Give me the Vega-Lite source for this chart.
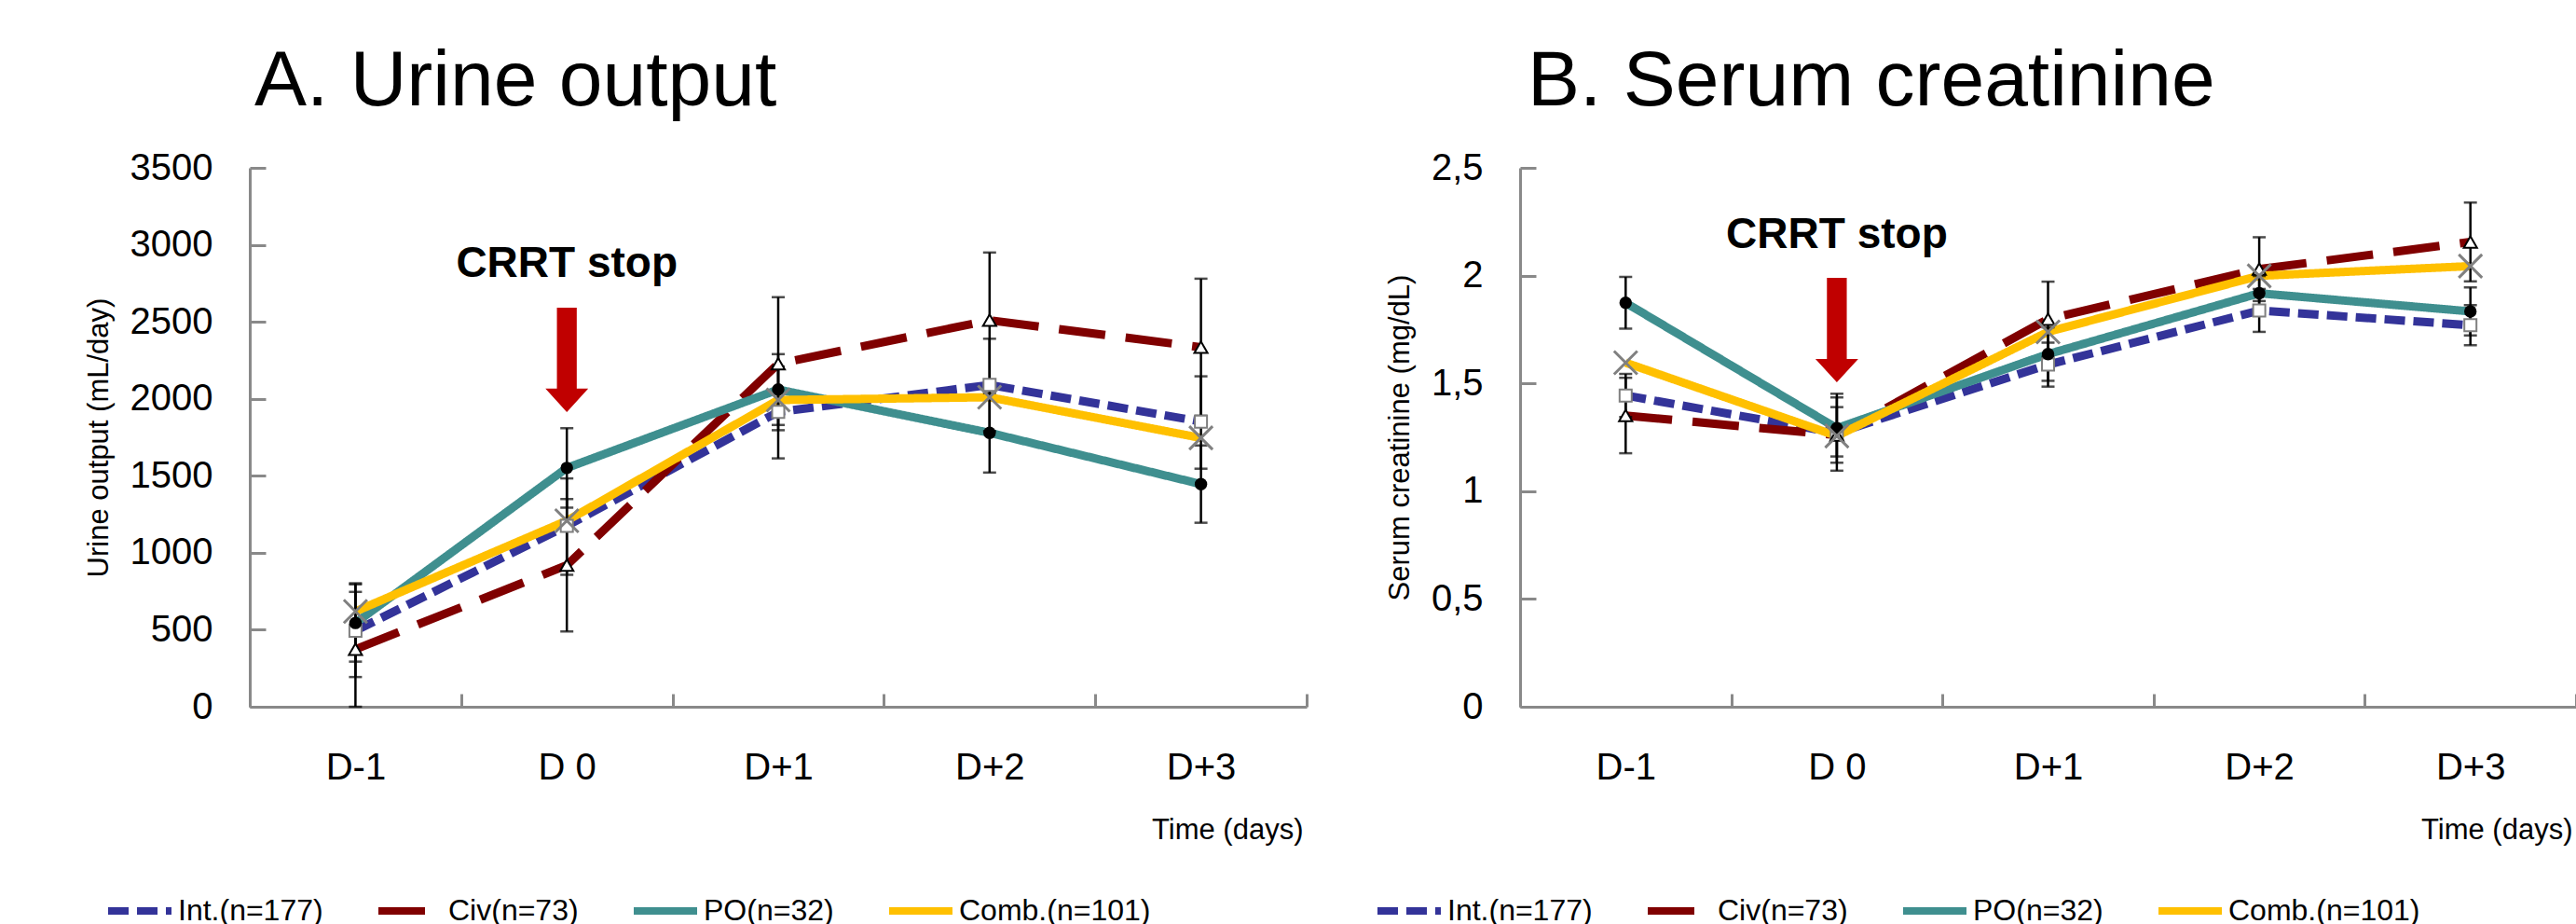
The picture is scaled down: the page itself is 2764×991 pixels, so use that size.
{
  "$schema": "https://vega.github.io/schema/vega-lite/v6.json",
  "background": "white",
  "padding": {"left": 90, "top": 46, "right": 0, "bottom": 0},
  "spacing": 229,
  "bounds": "flush",
  "config": {
    "font": "Liberation Sans",
    "view": {"stroke": null},
    "axis": {"domainColor": "#898989", "domainWidth": 3, "tickColor": "#898989", "tickWidth": 3, "grid": false, "labelFontSize": 40, "labelColor": "black", "titleFontSize": 31, "titleFontWeight": "normal", "titleColor": "black", "labelFont": "Liberation Sans", "titleFont": "Liberation Sans"},
    "axisY": {"tickSize": -17, "labelPadding": 57, "titlePadding": 17},
    "axisX": {"tickSize": -14, "labelPadding": 59, "labelAngle": 0}
  },
  "datasets": {
    "urine": [
      {"series": "Int.(n=177)", "day": "D-1", "mean": 494, "lo": 193, "hi": 795},
      {"series": "Int.(n=177)", "day": "D 0", "mean": 1175, "lo": 857, "hi": 1483},
      {"series": "Int.(n=177)", "day": "D+1", "mean": 1915, "lo": 1613, "hi": 2210},
      {"series": "Int.(n=177)", "day": "D+2", "mean": 2090, "lo": 1790, "hi": 2390},
      {"series": "Int.(n=177)", "day": "D+3", "mean": 1852, "lo": 1546, "hi": 2146},
      {"series": "Civ(n=73)", "day": "D-1", "mean": 373, "lo": 0, "hi": 746},
      {"series": "Civ(n=73)", "day": "D 0", "mean": 919, "lo": 489, "hi": 1349},
      {"series": "Civ(n=73)", "day": "D+1", "mean": 2228, "lo": 1796, "hi": 2660},
      {"series": "Civ(n=73)", "day": "D+2", "mean": 2510, "lo": 2070, "hi": 2950},
      {"series": "Civ(n=73)", "day": "D+3", "mean": 2335, "lo": 1890, "hi": 2780},
      {"series": "PO(n=32)", "day": "D-1", "mean": 544, "lo": 293, "hi": 802},
      {"series": "PO(n=32)", "day": "D 0", "mean": 1551, "lo": 1293, "hi": 1809},
      {"series": "PO(n=32)", "day": "D+1", "mean": 2060, "lo": 1830, "hi": 2290},
      {"series": "PO(n=32)", "day": "D+2", "mean": 1779, "lo": 1521, "hi": 2037},
      {"series": "PO(n=32)", "day": "D+3", "mean": 1446, "lo": 1195, "hi": 1697},
      {"series": "Comb.(n=101)", "day": "D-1", "mean": 619, "lo": null, "hi": null},
      {"series": "Comb.(n=101)", "day": "D 0", "mean": 1208, "lo": null, "hi": null},
      {"series": "Comb.(n=101)", "day": "D+1", "mean": 1992, "lo": null, "hi": null},
      {"series": "Comb.(n=101)", "day": "D+2", "mean": 2010, "lo": null, "hi": null},
      {"series": "Comb.(n=101)", "day": "D+3", "mean": 1746, "lo": null, "hi": null}
    ],
    "creat": [
      {"series": "Int.(n=177)", "day": "D-1", "mean": 1.444, "lo": 1.344, "hi": 1.544},
      {"series": "Int.(n=177)", "day": "D 0", "mean": 1.27, "lo": 1.161, "hi": 1.39},
      {"series": "Int.(n=177)", "day": "D+1", "mean": 1.587, "lo": 1.485, "hi": 1.689},
      {"series": "Int.(n=177)", "day": "D+2", "mean": 1.838, "lo": 1.739, "hi": 1.938},
      {"series": "Int.(n=177)", "day": "D+3", "mean": 1.77, "lo": 1.677, "hi": 1.863},
      {"series": "Civ(n=73)", "day": "D-1", "mean": 1.351, "lo": 1.176, "hi": 1.526},
      {"series": "Civ(n=73)", "day": "D 0", "mean": 1.26, "lo": 1.095, "hi": 1.435},
      {"series": "Civ(n=73)", "day": "D+1", "mean": 1.798, "lo": 1.624, "hi": 1.972},
      {"series": "Civ(n=73)", "day": "D+2", "mean": 2.03, "lo": 1.882, "hi": 2.178},
      {"series": "Civ(n=73)", "day": "D+3", "mean": 2.156, "lo": 1.973, "hi": 2.339},
      {"series": "PO(n=32)", "day": "D-1", "mean": 1.874, "lo": 1.754, "hi": 1.994},
      {"series": "PO(n=32)", "day": "D 0", "mean": 1.292, "lo": 1.132, "hi": 1.452},
      {"series": "PO(n=32)", "day": "D+1", "mean": 1.636, "lo": 1.512, "hi": 1.76},
      {"series": "PO(n=32)", "day": "D+2", "mean": 1.918, "lo": 1.838, "hi": 1.998},
      {"series": "PO(n=32)", "day": "D+3", "mean": 1.834, "lo": 1.723, "hi": 1.945},
      {"series": "Comb.(n=101)", "day": "D-1", "mean": 1.596, "lo": null, "hi": null},
      {"series": "Comb.(n=101)", "day": "D 0", "mean": 1.256, "lo": null, "hi": null},
      {"series": "Comb.(n=101)", "day": "D+1", "mean": 1.739, "lo": null, "hi": null},
      {"series": "Comb.(n=101)", "day": "D+2", "mean": 1.999, "lo": null, "hi": null},
      {"series": "Comb.(n=101)", "day": "D+3", "mean": 2.044, "lo": null, "hi": null}
    ]
  },
  "resolve": {
    "scale": {"x": "independent", "y": "independent", "color": "independent", "strokeDash": "independent"},
    "legend": {"color": "independent", "strokeDash": "independent"}
  },
  "hconcat": [
    {
      "width": 1134,
      "height": 578,
      "title": {"text": "A. Urine output", "anchor": "start", "frame": "group", "dx": 5, "offset": -37, "baseline": "alphabetic", "fontSize": 84, "font": "Liberation Sans", "fontWeight": "normal", "color": "black"},
      "data": {"name": "urine"},
      "encoding": {
        "x": {"field": "day", "type": "ordinal", "sort": ["D-1", "D 0", "D+1", "D+2", "D+3"], "scale": {"type": "band", "paddingInner": 0, "paddingOuter": 0},
          "axis": {"title": "Time (days)", "titleX": 1130, "titleY": 141, "titleAlign": "right", "titleAnchor": "end", "titleBaseline": "alphabetic", "labelAngle": 0, "tickBand": "extent"}}
      },
      "layer": [
        {
          "mark": {"type": "line", "strokeWidth": 9},
          "encoding": {
            "y": {"field": "mean", "type": "quantitative", "title": "Urine output (mL/day)", "scale": {"domain": [0, 3500], "nice": false}, "axis": {"values": [0, 500, 1000, 1500, 2000, 2500, 3000, 3500], "format": "d", "title": "Urine output (mL/day)"}},
            "color": {"field": "series", "type": "nominal", "scale": {"domain": ["Int.(n=177)", "Civ(n=73)", "PO(n=32)", "Comb.(n=101)"], "range": ["#333399", "#800000", "#3F8F8F", "#FFC000"]},
              "legend": {"orient": "none", "legendX": -156, "legendY": 759, "direction": "horizontal", "title": null, "symbolType": "stroke", "symbolSize": 4624, "symbolStrokeWidth": 8, "labelFontSize": 32, "labelFont": "Liberation Sans", "labelColor": "black", "labelOffset": 3, "labelLimit": 0, "columnPadding": 43, "padding": 0}},
            "strokeDash": {"field": "series", "type": "nominal", "scale": {"domain": ["Int.(n=177)", "Civ(n=73)", "PO(n=32)", "Comb.(n=101)"], "range": [[22, 9], [50, 22], [1, 0], [1, 0]]},
              "legend": {"orient": "none", "legendX": -156, "legendY": 759, "direction": "horizontal", "title": null, "symbolType": "stroke", "symbolSize": 4624, "symbolStrokeWidth": 8, "labelFontSize": 32, "labelFont": "Liberation Sans", "labelColor": "black", "labelOffset": 3, "labelLimit": 0, "columnPadding": 43, "padding": 0}}
          }
        },
        {
          "transform": [{"filter": "isValid(datum.lo)"}],
          "mark": {"type": "rule", "color": "black", "strokeWidth": 2.5},
          "encoding": {"y": {"field": "lo", "type": "quantitative", "title": "Urine output (mL/day)"}, "y2": {"field": "hi"}}
        },
        {
          "transform": [{"filter": "isValid(datum.lo)"}],
          "mark": {"type": "tick", "color": "black", "size": 14, "thickness": 2.5},
          "encoding": {"y": {"field": "lo", "type": "quantitative", "title": "Urine output (mL/day)"}}
        },
        {
          "transform": [{"filter": "isValid(datum.hi)"}],
          "mark": {"type": "tick", "color": "black", "size": 14, "thickness": 2.5},
          "encoding": {"y": {"field": "hi", "type": "quantitative", "title": "Urine output (mL/day)"}}
        },
        {
          "transform": [{"filter": "datum.series === 'Int.(n=177)'"}],
          "mark": {"type": "point", "shape": "square", "filled": true, "fill": "white", "stroke": "#7f7f7f", "strokeWidth": 2, "size": 169, "opacity": 1},
          "encoding": {"y": {"field": "mean", "type": "quantitative", "title": "Urine output (mL/day)"}}
        },
        {
          "transform": [{"filter": "datum.series === 'Civ(n=73)'"}],
          "mark": {"type": "point", "shape": "triangle-up", "filled": true, "fill": "white", "stroke": "black", "strokeWidth": 2, "size": 200, "opacity": 1},
          "encoding": {"y": {"field": "mean", "type": "quantitative", "title": "Urine output (mL/day)"}}
        },
        {
          "transform": [{"filter": "datum.series === 'PO(n=32)'"}],
          "mark": {"type": "point", "shape": "circle", "filled": true, "fill": "black", "size": 180, "opacity": 1},
          "encoding": {"y": {"field": "mean", "type": "quantitative", "title": "Urine output (mL/day)"}}
        },
        {
          "transform": [{"filter": "datum.series === 'Comb.(n=101)'"}],
          "mark": {"type": "point", "shape": "M-1,-1L1,1M1,-1L-1,1", "filled": false, "stroke": "#808080", "strokeWidth": 3, "size": 625, "opacity": 1},
          "encoding": {"y": {"field": "mean", "type": "quantitative", "title": "Urine output (mL/day)"}}
        },
        {
          "transform": [{"filter": "datum.day === 'D 0' && datum.series === 'Int.(n=177)'"}],
          "mark": {"type": "text", "text": "CRRT stop", "font": "Liberation Sans", "fontWeight": "bold", "fontSize": 46, "align": "center", "baseline": "alphabetic", "color": "black"},
          "encoding": {"y": {"datum": 2791, "type": "quantitative", "title": "Urine output (mL/day)"}}
        },
        {
          "transform": [{"filter": "datum.day === 'D 0' && datum.series === 'Int.(n=177)'"}],
          "mark": {"type": "point", "shape": "M-0.19,-1L0.19,-1L0.19,0.55L0.41,0.55L0,1L-0.41,0.55L-0.19,0.55Z", "filled": true, "fill": "#C00000", "strokeWidth": 0, "size": 12544, "opacity": 1},
          "encoding": {"y": {"datum": 2253, "type": "quantitative", "title": "Urine output (mL/day)"}}
        }
      ]
    },
    {
      "width": 1133,
      "height": 578,
      "title": {"text": "B. Serum creatinine", "anchor": "start", "frame": "group", "dx": 8, "offset": -37, "baseline": "alphabetic", "fontSize": 84, "font": "Liberation Sans", "fontWeight": "normal", "color": "black"},
      "data": {"name": "creat"},
      "encoding": {
        "x": {"field": "day", "type": "ordinal", "sort": ["D-1", "D 0", "D+1", "D+2", "D+3"], "scale": {"type": "band", "paddingInner": 0, "paddingOuter": 0},
          "axis": {"title": "Time (days)", "titleX": 1129, "titleY": 141, "titleAlign": "right", "titleAnchor": "end", "titleBaseline": "alphabetic", "labelAngle": 0, "tickBand": "extent"}}
      },
      "layer": [
        {
          "mark": {"type": "line", "strokeWidth": 9},
          "encoding": {
            "y": {"field": "mean", "type": "quantitative", "title": "Serum creatinine (mg/dL)", "scale": {"domain": [0, 2.5], "nice": false}, "axis": {"values": [0, 0.5, 1, 1.5, 2, 2.5], "labelExpr": "replace(toString(datum.value), '.', ',')", "title": "Serum creatinine (mg/dL)"}},
            "color": {"field": "series", "type": "nominal", "scale": {"domain": ["Int.(n=177)", "Civ(n=73)", "PO(n=32)", "Comb.(n=101)"], "range": ["#333399", "#800000", "#3F8F8F", "#FFC000"]},
              "legend": {"orient": "none", "legendX": -157, "legendY": 759, "direction": "horizontal", "title": null, "symbolType": "stroke", "symbolSize": 4624, "symbolStrokeWidth": 8, "labelFontSize": 32, "labelFont": "Liberation Sans", "labelColor": "black", "labelOffset": 3, "labelLimit": 0, "columnPadding": 43, "padding": 0}},
            "strokeDash": {"field": "series", "type": "nominal", "scale": {"domain": ["Int.(n=177)", "Civ(n=73)", "PO(n=32)", "Comb.(n=101)"], "range": [[22, 9], [50, 22], [1, 0], [1, 0]]},
              "legend": {"orient": "none", "legendX": -157, "legendY": 759, "direction": "horizontal", "title": null, "symbolType": "stroke", "symbolSize": 4624, "symbolStrokeWidth": 8, "labelFontSize": 32, "labelFont": "Liberation Sans", "labelColor": "black", "labelOffset": 3, "labelLimit": 0, "columnPadding": 43, "padding": 0}}
          }
        },
        {
          "transform": [{"filter": "isValid(datum.lo)"}],
          "mark": {"type": "rule", "color": "black", "strokeWidth": 2.5},
          "encoding": {"y": {"field": "lo", "type": "quantitative", "title": "Serum creatinine (mg/dL)"}, "y2": {"field": "hi"}}
        },
        {
          "transform": [{"filter": "isValid(datum.lo)"}],
          "mark": {"type": "tick", "color": "black", "size": 14, "thickness": 2.5},
          "encoding": {"y": {"field": "lo", "type": "quantitative", "title": "Serum creatinine (mg/dL)"}}
        },
        {
          "transform": [{"filter": "isValid(datum.hi)"}],
          "mark": {"type": "tick", "color": "black", "size": 14, "thickness": 2.5},
          "encoding": {"y": {"field": "hi", "type": "quantitative", "title": "Serum creatinine (mg/dL)"}}
        },
        {
          "transform": [{"filter": "datum.series === 'Int.(n=177)'"}],
          "mark": {"type": "point", "shape": "square", "filled": true, "fill": "white", "stroke": "#7f7f7f", "strokeWidth": 2, "size": 169, "opacity": 1},
          "encoding": {"y": {"field": "mean", "type": "quantitative", "title": "Serum creatinine (mg/dL)"}}
        },
        {
          "transform": [{"filter": "datum.series === 'Civ(n=73)'"}],
          "mark": {"type": "point", "shape": "triangle-up", "filled": true, "fill": "white", "stroke": "black", "strokeWidth": 2, "size": 200, "opacity": 1},
          "encoding": {"y": {"field": "mean", "type": "quantitative", "title": "Serum creatinine (mg/dL)"}}
        },
        {
          "transform": [{"filter": "datum.series === 'PO(n=32)'"}],
          "mark": {"type": "point", "shape": "circle", "filled": true, "fill": "black", "size": 180, "opacity": 1},
          "encoding": {"y": {"field": "mean", "type": "quantitative", "title": "Serum creatinine (mg/dL)"}}
        },
        {
          "transform": [{"filter": "datum.series === 'Comb.(n=101)'"}],
          "mark": {"type": "point", "shape": "M-1,-1L1,1M1,-1L-1,1", "filled": false, "stroke": "#808080", "strokeWidth": 3, "size": 625, "opacity": 1},
          "encoding": {"y": {"field": "mean", "type": "quantitative", "title": "Serum creatinine (mg/dL)"}}
        },
        {
          "transform": [{"filter": "datum.day === 'D 0' && datum.series === 'Int.(n=177)'"}],
          "mark": {"type": "text", "text": "CRRT stop", "font": "Liberation Sans", "fontWeight": "bold", "fontSize": 46, "align": "center", "baseline": "alphabetic", "color": "black"},
          "encoding": {"y": {"datum": 2.128, "type": "quantitative", "title": "Serum creatinine (mg/dL)"}}
        },
        {
          "transform": [{"filter": "datum.day === 'D 0' && datum.series === 'Int.(n=177)'"}],
          "mark": {"type": "point", "shape": "M-0.19,-1L0.19,-1L0.19,0.55L0.41,0.55L0,1L-0.41,0.55L-0.19,0.55Z", "filled": true, "fill": "#C00000", "strokeWidth": 0, "size": 12544, "opacity": 1},
          "encoding": {"y": {"datum": 1.747, "type": "quantitative", "title": "Serum creatinine (mg/dL)"}}
        }
      ]
    }
  ]
}
